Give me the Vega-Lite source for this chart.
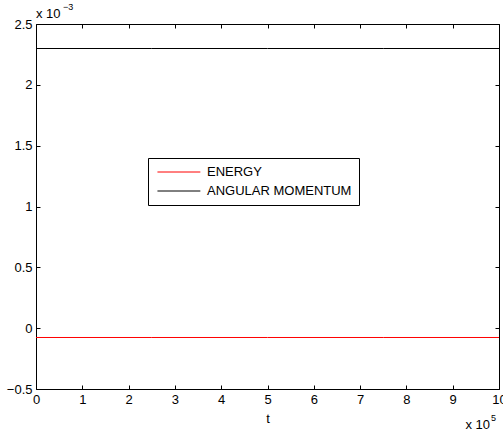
{
  "$schema": "https://vega.github.io/schema/vega-lite/v6.json",
  "width": 463,
  "height": 365,
  "autosize": {"type": "none"},
  "padding": {"left": 36, "top": 24, "right": 4, "bottom": 46},
  "background": "white",
  "config": {
    "font": "Liberation Sans",
    "view": {"stroke": null},
    "axis": {
      "grid": false,
      "domainColor": "black",
      "domainWidth": 1,
      "tickColor": "black",
      "tickWidth": 1,
      "tickSize": -4,
      "labelPadding": 8,
      "labelColor": "black",
      "labelFont": "Liberation Sans",
      "labelFontSize": 13,
      "titleFont": "Liberation Sans",
      "titleFontSize": 13,
      "titleFontWeight": "normal",
      "titleColor": "black"
    }
  },
  "datasets": {
    "series": [
      {"t": 0, "value": -0.0000767, "series": "ENERGY"},
      {"t": 250000, "value": -0.0000767, "series": "ENERGY"},
      {"t": 500000, "value": -0.0000767, "series": "ENERGY"},
      {"t": 750000, "value": -0.0000767, "series": "ENERGY"},
      {"t": 1000000, "value": -0.0000767, "series": "ENERGY"},
      {"t": 0, "value": 0.0022986, "series": "ANGULAR MOMENTUM"},
      {"t": 250000, "value": 0.0022986, "series": "ANGULAR MOMENTUM"},
      {"t": 500000, "value": 0.0022986, "series": "ANGULAR MOMENTUM"},
      {"t": 750000, "value": 0.0022986, "series": "ANGULAR MOMENTUM"},
      {"t": 1000000, "value": 0.0022986, "series": "ANGULAR MOMENTUM"}
    ]
  },
  "layer": [
    {
      "data": {"name": "series"},
      "mark": {"type": "line", "strokeWidth": 1, "clip": true},
      "encoding": {
        "x": {
          "field": "t", "type": "quantitative",
          "scale": {"domain": [0, 1000000], "nice": false, "zero": false},
          "axis": {
            "title": "t",
            "values": [0, 100000, 200000, 300000, 400000, 500000, 600000, 700000, 800000, 900000, 1000000],
            "labelExpr": "format(round(datum.value/100000), 'd')",
            "labelFlush": false,
            "titlePadding": 6
          }
        },
        "y": {
          "field": "value", "type": "quantitative",
          "scale": {"domain": [-0.0005, 0.0025], "nice": false, "zero": false},
          "axis": {
            "title": null,
            "values": [-0.0005, 0, 0.0005, 0.001, 0.0015, 0.002, 0.0025],
            "labelExpr": "format(round(datum.value*10000)/10, '')",
            "labelFlush": false
          }
        },
        "color": {
          "field": "series", "type": "nominal",
          "scale": {"domain": ["ENERGY", "ANGULAR MOMENTUM"], "range": ["#ff0000", "#000000"]},
          "legend": {
            "title": null,
            "orient": "none",
            "legendX": 112,
            "legendY": 134,
            "strokeColor": "black",
            "fillColor": "white",
            "padding": 7,
            "symbolType": "M -0.7,0 L 5.9,0",
            "symbolSize": 169,
            "symbolStrokeWidth": 1,
            "labelFont": "Liberation Sans",
            "labelFontSize": 13,
            "labelColor": "black",
            "labelOffset": 38,
            "labelLimit": 300,
            "rowPadding": 5
          }
        }
      }
    },
    {
      "data": {"name": "series"},
      "mark": {"type": "line", "opacity": 0},
      "encoding": {
        "x": {
          "field": "t", "type": "quantitative",
          "axis": {
            "orient": "top", "title": null, "labels": false,
            "values": [0, 100000, 200000, 300000, 400000, 500000, 600000, 700000, 800000, 900000, 1000000]
          }
        },
        "y": {
          "field": "value", "type": "quantitative",
          "axis": {
            "orient": "right", "title": null, "labels": false,
            "values": [-0.0005, 0, 0.0005, 0.001, 0.0015, 0.002, 0.0025]
          }
        },
        "detail": {"field": "series"}
      }
    },
    {
      "data": {"values": [{}]},
      "mark": {"type": "text", "align": "left", "baseline": "alphabetic", "fontSize": 13, "font": "Liberation Sans", "color": "black", "dx": 0, "dy": -6},
      "encoding": {
        "x": {"datum": 0, "type": "quantitative", "axis": null},
        "y": {"datum": 0.0025, "type": "quantitative", "axis": null},
        "text": {"value": "x 10"}
      }
    },
    {
      "data": {"values": [{}]},
      "mark": {"type": "text", "align": "left", "baseline": "alphabetic", "fontSize": 9, "font": "Liberation Sans", "color": "black", "dx": 27, "dy": -14},
      "encoding": {
        "x": {"datum": 0, "type": "quantitative", "axis": null},
        "y": {"datum": 0.0025, "type": "quantitative", "axis": null},
        "text": {"value": "−3"}
      }
    },
    {
      "data": {"values": [{}]},
      "mark": {"type": "text", "align": "right", "baseline": "alphabetic", "fontSize": 13, "font": "Liberation Sans", "color": "black", "dx": -9, "dy": 40},
      "encoding": {
        "x": {"datum": 1000000, "type": "quantitative", "axis": null},
        "y": {"datum": -0.0005, "type": "quantitative", "axis": null},
        "text": {"value": "x 10"}
      }
    },
    {
      "data": {"values": [{}]},
      "mark": {"type": "text", "align": "left", "baseline": "alphabetic", "fontSize": 9, "font": "Liberation Sans", "color": "black", "dx": -8, "dy": 32},
      "encoding": {
        "x": {"datum": 1000000, "type": "quantitative", "axis": null},
        "y": {"datum": -0.0005, "type": "quantitative", "axis": null},
        "text": {"value": "5"}
      }
    }
  ],
  "resolve": {"axis": {"x": "independent", "y": "independent"}}
}
